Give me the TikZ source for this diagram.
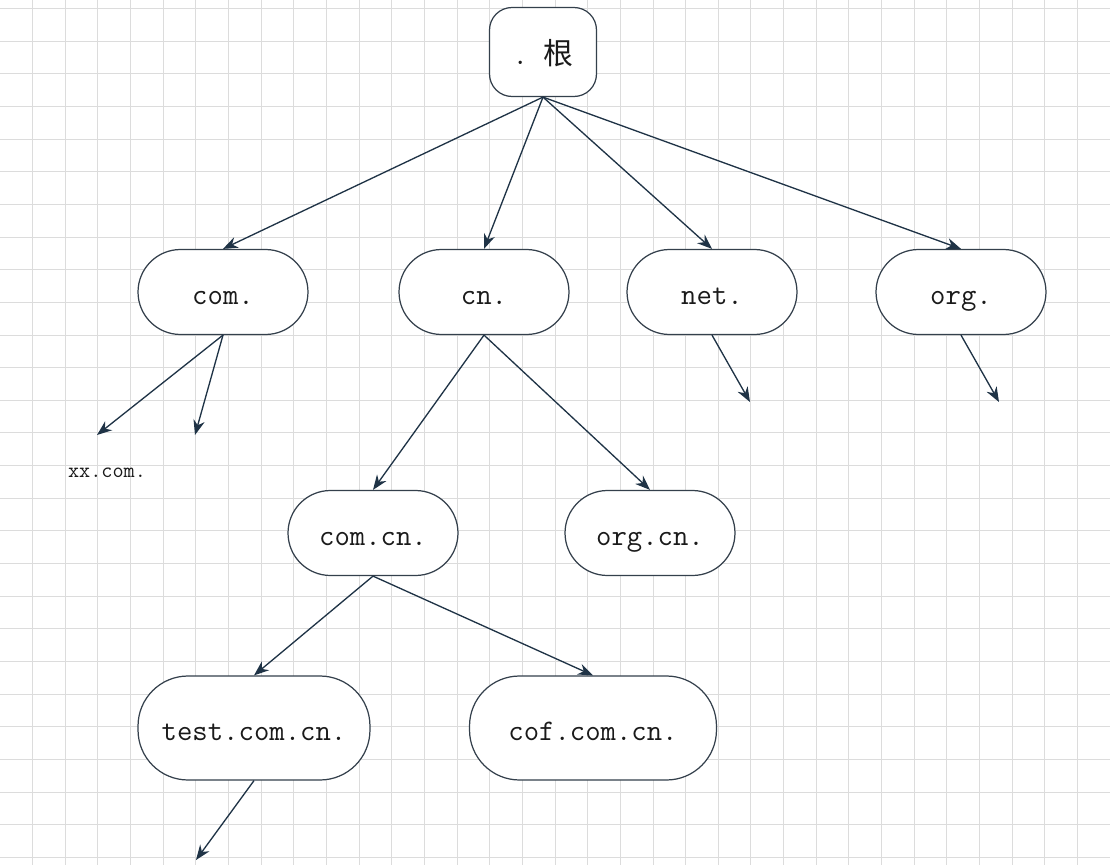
\documentclass[tikz,border=0pt]{standalone}
\usepackage{fontspec}
\newfontfamily\cjk{Noto Sans CJK SC}
\usetikzlibrary{arrows.meta}
\definecolor{gridgray}{HTML}{DCDCDC}
\definecolor{linkblue}{HTML}{1F3346}
\definecolor{edgegray}{HTML}{34404C}
\definecolor{inkgray}{HTML}{1A1A1A}

\begin{document}
\begin{tikzpicture}[x=0.02cm, y=-0.02cm,
  dnsbox/.style={rectangle, rounded corners=0.85cm, draw=edgegray, line width=0.7pt, fill=white, text=inkgray, minimum width=3.4cm, minimum height=1.7cm, text height=14.5pt, text depth=0pt, font=\fontsize{17}{20}\selectfont\ttfamily},
  link/.style={-{Stealth[length=8.5pt, width=6.5pt]}, draw=linkblue, line width=0.75pt}
]
  % paper with grid
  \fill[white] (0,0) rectangle (1110,865);
  \useasboundingbox (0,0) rectangle (1110,865);
  \foreach \i in {1,...,33}
    \draw[gridgray, line width=0.55pt] (32.65*\i,0) -- (32.65*\i,865);
  \foreach \j in {0,...,26}
    \draw[gridgray, line width=0.55pt] (0,8.5+32.65*\j) -- (1110,8.5+32.65*\j);

  % root
  \node[dnsbox, rounded corners=0.45cm, minimum width=2.14cm, minimum height=1.78cm] (root) at (543,52) {.\ {\cjk\fontsize{17}{18}\selectfont 根}};

  % top level domains
  \node[dnsbox] (com) at (223,292) {com.};
  \node[dnsbox] (cn) at (484,292) {cn.};
  \node[dnsbox] (net) at (712,292) {net.};
  \node[dnsbox] (org) at (961,292) {org.};

  % second level under cn.
  \node[dnsbox] (comcn) at (373,533) {com.cn.};
  \node[dnsbox] (orgcn) at (650,533) {org.cn.};

  % third level under com.cn.
  \node[dnsbox, rounded corners=1cm, minimum width=4.64cm, minimum height=2.08cm] (test) at (254,728) {test.com.cn.};
  \node[dnsbox, rounded corners=1cm, minimum width=4.94cm, minimum height=2.08cm] (cof) at (593,728) {cof.com.cn.};

  % loose ends
  \coordinate (comA) at (97,435);
  \coordinate (comB) at (195,435);
  \coordinate (netA) at (750,402);
  \coordinate (orgA) at (999,402);
  \coordinate (testA) at (196,860);
  \node[text=inkgray, font=\fontsize{12.3}{14}\selectfont\ttfamily] (xxcom) at (107,473) {xx.com.};

  \draw[link] (root.south) -- (com.north);
  \draw[link] (root.south) -- (cn.north);
  \draw[link] (root.south) -- (net.north);
  \draw[link] (root.south) -- (org.north);
  \draw[link] (com.south) -- (comA);
  \draw[link] (com.south) -- (comB);
  \draw[link] (cn.south) -- (comcn.north);
  \draw[link] (cn.south) -- (orgcn.north);
  \draw[link] (net.south) -- (netA);
  \draw[link] (org.south) -- (orgA);
  \draw[link] (comcn.south) -- (test.north);
  \draw[link] (comcn.south) -- (cof.north);
  \draw[link] (test.south) -- (testA);
\end{tikzpicture}
\end{document}
